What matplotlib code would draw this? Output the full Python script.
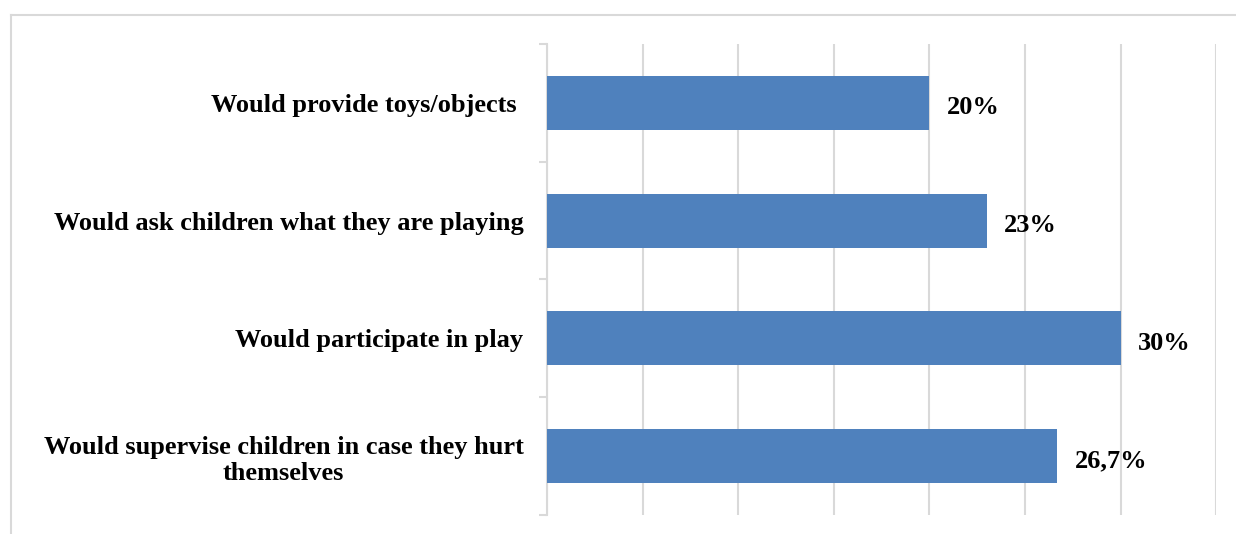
import matplotlib.pyplot as plt
from matplotlib.lines import Line2D
import numpy as np

categories = [
    "Would provide toys/objects ",
    "Would ask children what they are playing",
    "Would participate in play",
    "Would supervise children in case they hurt\nthemselves",
]
values = [20, 23, 30, 26.7]
value_labels = ["20%", "23%", "30%", "26,7%"]

plt.rcParams["font.family"] = ["Liberation Serif", "DejaVu Serif"]

fig = plt.figure(figsize=(12.36, 5.34), dpi=100)
ax = fig.add_axes([0.4426, 0.0356, 0.5413, 0.882])

y = np.arange(len(categories))
ax.barh(y, values, height=0.46, color="#4F81BD", zorder=3)
ax.set_ylim(len(categories) - 0.5, -0.5)
ax.set_xlim(0, 35)

# vertical gridlines every 5%, no x tick labels
ax.set_xticks(np.arange(0, 36, 5))
ax.tick_params(axis="x", length=0, labelbottom=False)
ax.grid(axis="x", color="#D9D9D9", linewidth=1.5, zorder=0)

for s in ["top", "right", "bottom"]:
    ax.spines[s].set_visible(False)
ax.spines["left"].set_color("#D9D9D9")
ax.spines["left"].set_linewidth(1.5)

# category labels, ticks at category boundaries
ax.set_yticks(y)
ax.set_yticklabels(categories, fontsize=19, fontweight="bold",
                   multialignment="center", linespacing=1.2)
ax.tick_params(axis="y", length=0, pad=17)
ax.set_yticks(np.arange(-0.5, len(categories), 1), minor=True)
ax.tick_params(axis="y", which="minor", length=6, width=1.5, color="#D9D9D9")

for yi, v, lab in zip(y, values, value_labels):
    ax.text(v + 0.9, yi + 0.04, lab, va="center", ha="left",
            fontsize=19, fontweight="bold")

# chart area frame (top and left edges)
fig.add_artist(Line2D([11 / 1236, 1.0], [1 - 15 / 534, 1 - 15 / 534],
                      color="#D9D9D9", linewidth=1.5))
fig.add_artist(Line2D([11 / 1236, 11 / 1236], [0.0, 1 - 15 / 534],
                      color="#D9D9D9", linewidth=1.5))

fig.savefig("out.png", dpi=100)
